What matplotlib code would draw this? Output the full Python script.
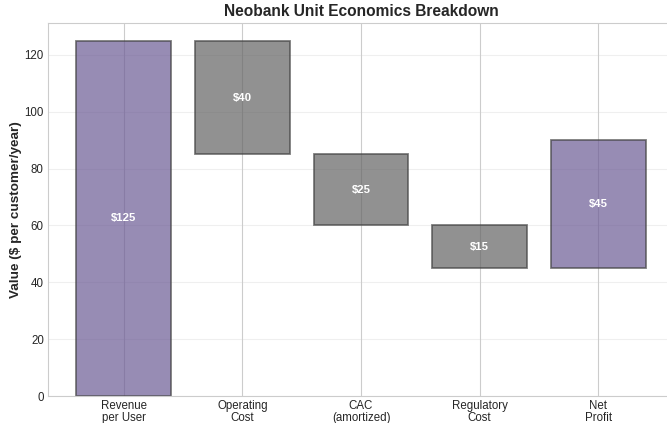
import matplotlib
matplotlib.use("Agg")
import matplotlib.pyplot as plt
import seaborn as sns

categories = ["Revenue\nper User", "Operating\nCost", "CAC\n(amortized)", "Regulatory\nCost", "Net\nProfit"]
values = [125, 40, 25, 15, 45]
bottoms = [0, 85, 60, 45, 45]
kinds = ["total", "cost", "cost", "cost", "total"]


def main():
    sns.set_style("whitegrid")
    plt.rcParams["font.family"] = ["Liberation Sans", "DejaVu Sans"]

    fig = plt.figure(figsize=(6.67, 4.23), dpi=100)
    ax = fig.add_axes([48 / 667, 27 / 423, 626 / 667, 373 / 423])

    colors = ["#6B5B95" if k == "total" else "#636363" for k in kinds]
    x = range(len(categories))
    bars = ax.bar(x, values, bottom=bottoms, width=0.8, color=colors,
                  edgecolor="#444444", linewidth=1.3, alpha=0.7)

    for bar, v, b in zip(bars, values, bottoms):
        ax.text(bar.get_x() + bar.get_width() / 2, b + v / 2, f"${v}",
                ha="center", va="center", color="white", fontsize=8.2,
                fontweight="bold")

    ax.set_xticks(list(x))
    ax.set_xticklabels(categories, fontsize=8.3, color="#262626", linespacing=0.95)
    ax.tick_params(axis="y", labelsize=8.3, colors="#262626")
    ax.tick_params(axis="both", length=0, pad=3)
    ax.set_ylim(0, 131.25)
    ax.set_xlim(-0.64, 4.64)
    ax.set_ylabel("Value ($ per customer/year)", fontsize=9.7, fontweight="bold",
                  labelpad=2)
    ax.set_title("Neobank Unit Economics Breakdown", fontsize=11.2, fontweight="bold",
                 pad=5)
    ax.grid(axis="y", alpha=0.3)

    fig.savefig("out.png", dpi=100)


if __name__ == "__main__":
    main()
